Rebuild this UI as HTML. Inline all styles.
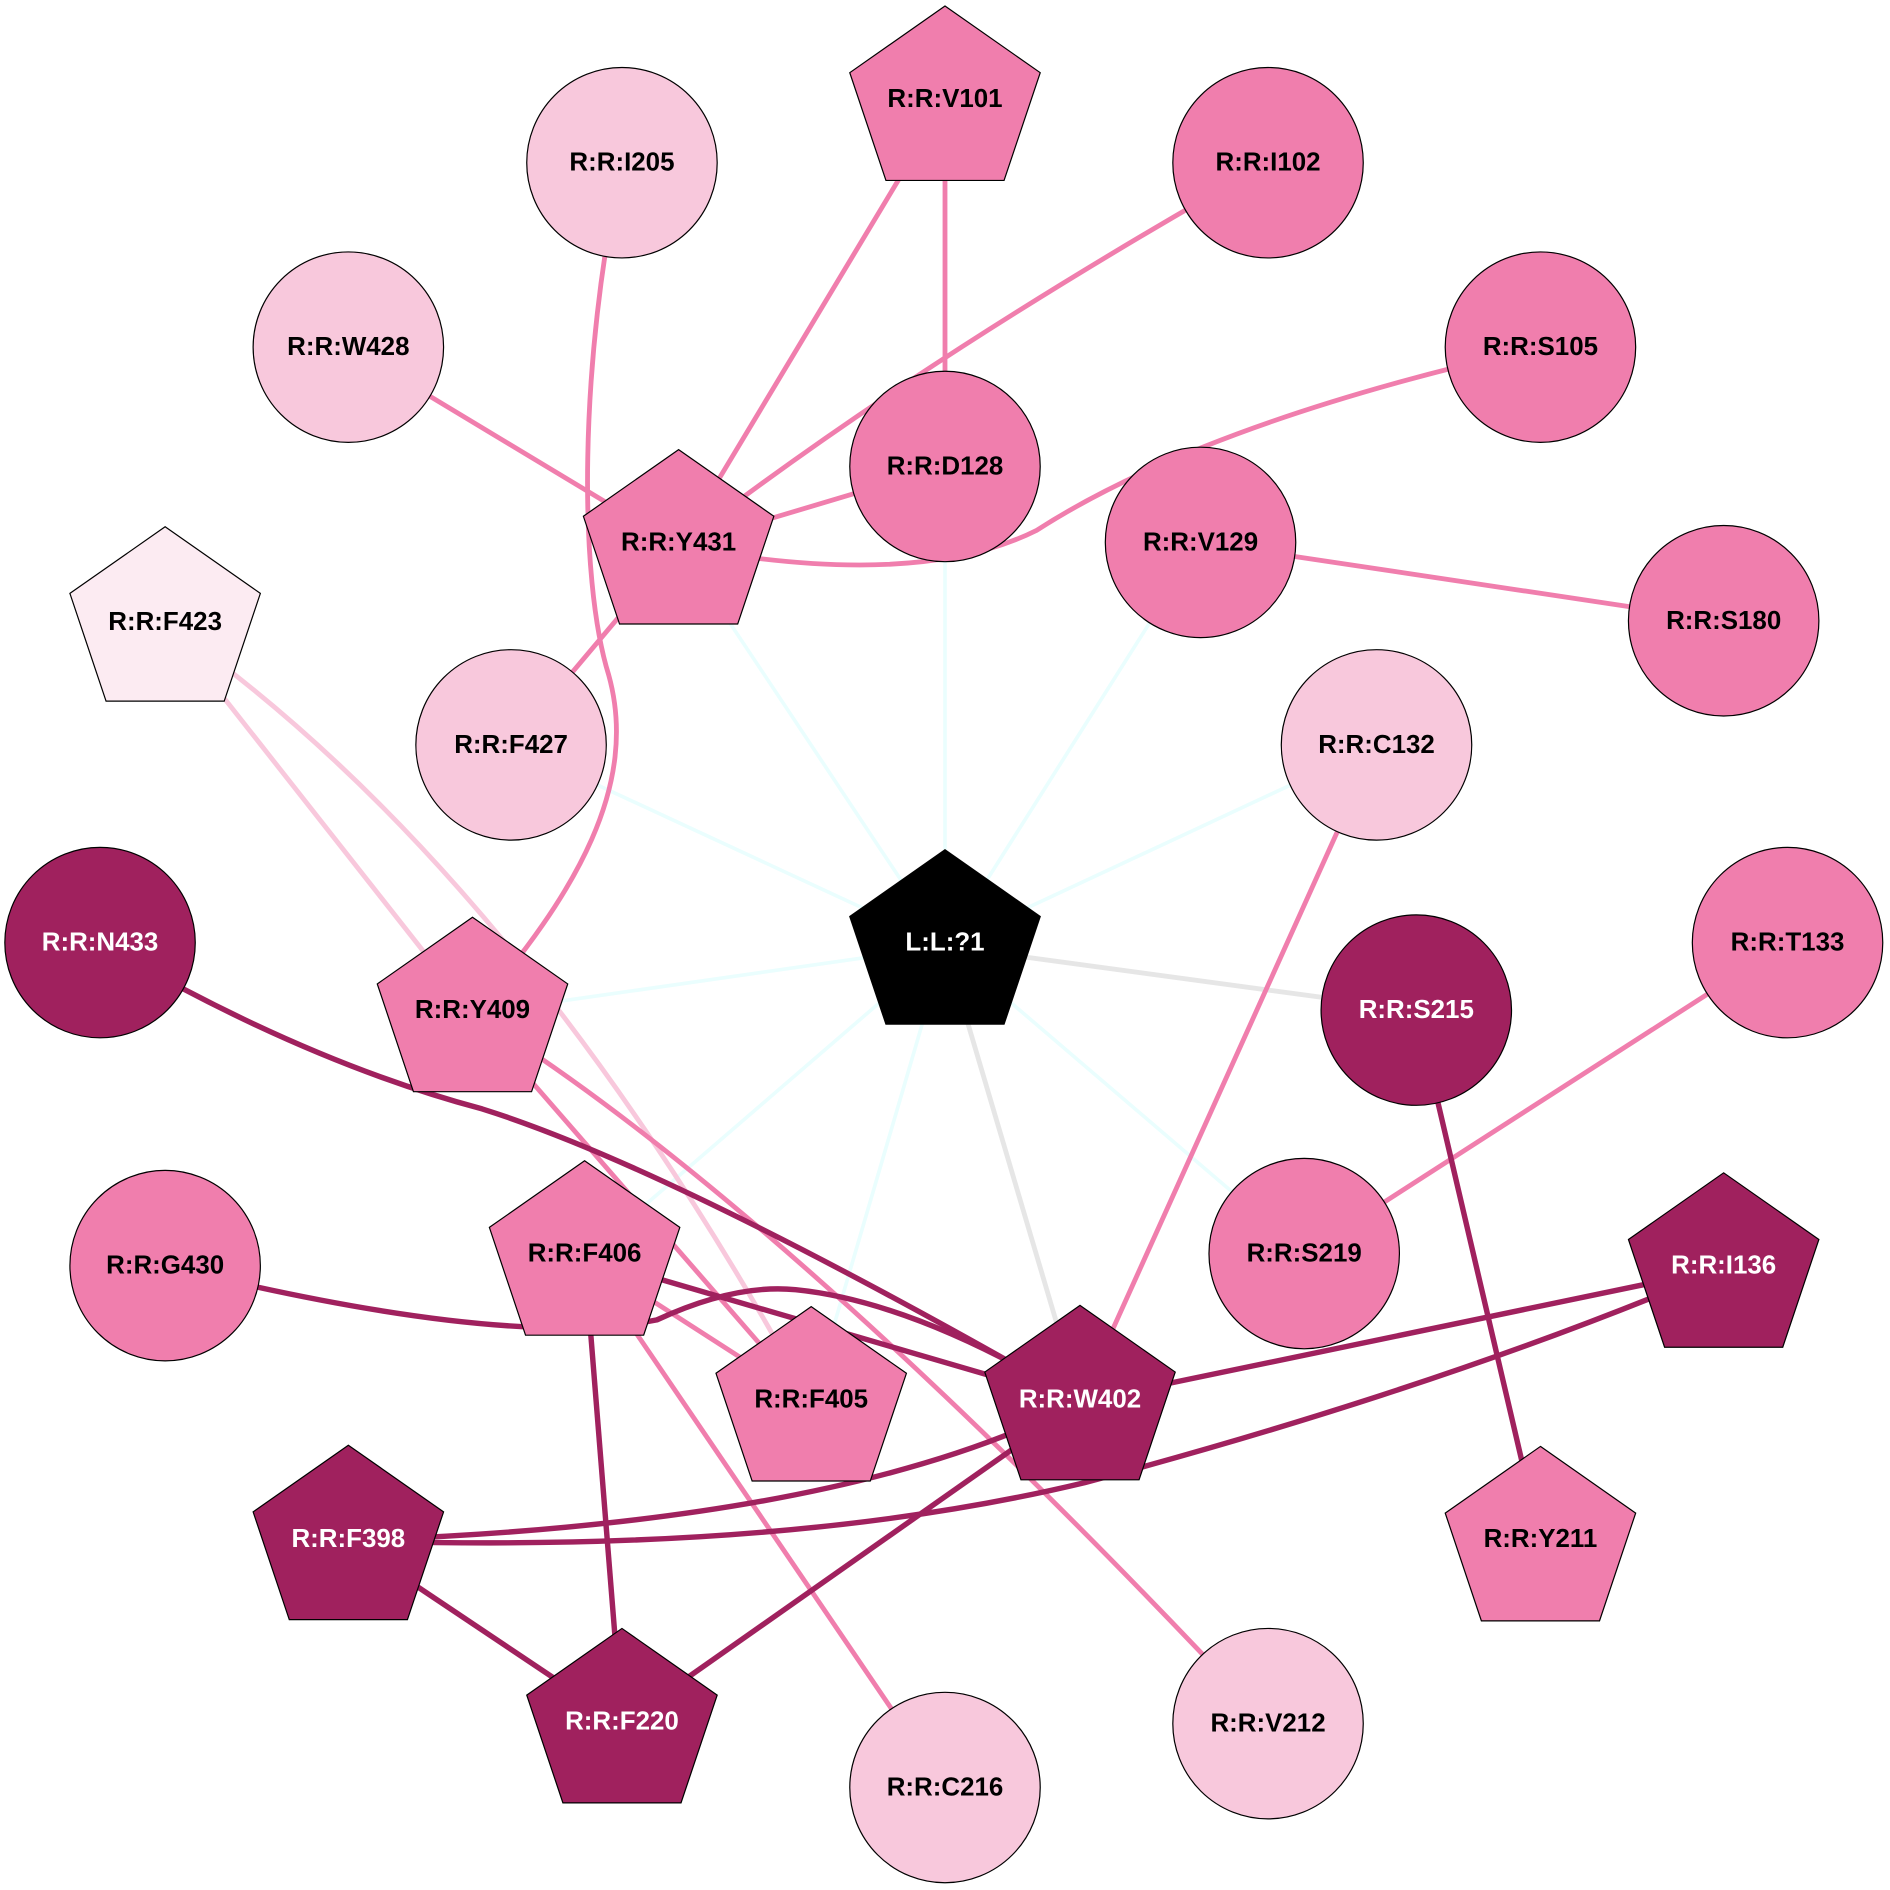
<!DOCTYPE html>
<html><head><meta charset="utf-8"><style>
html,body{margin:0;padding:0;background:#fff}
svg{display:block}
text{font-family:"Liberation Sans",Arial,sans-serif;font-weight:bold;font-size:21.5px;text-anchor:middle;dominant-baseline:central}
</style></head><body>
<svg width="1890" height="1890" viewBox="0 0 1568 1568" xmlns="http://www.w3.org/2000/svg">
<defs><polygon id="p" points="0,-80 79,-24.7 49,64.7 -49,64.7 -79,-24.7" stroke="#000" stroke-width="1"/></defs>
<g fill="none" stroke-width="3">
<g stroke="#eafefe">
<line x1="784" y1="785" x2="563" y2="453"/><line x1="784" y1="785" x2="784" y2="387"/>
<line x1="784" y1="785" x2="996" y2="450"/><line x1="784" y1="785" x2="424" y2="618"/>
<line x1="784" y1="785" x2="1142" y2="618"/><line x1="784" y1="785" x2="392" y2="841"/>
<line x1="784" y1="785" x2="1082" y2="1040"/><line x1="784" y1="785" x2="485" y2="1043"/>
<line x1="784" y1="785" x2="673" y2="1164"/>
</g>
<g stroke="#e6e6e6" stroke-width="4">
<line x1="784" y1="785" x2="1175" y2="838"/><line x1="784" y1="785" x2="896" y2="1163"/>
</g>
<g stroke="#f8c8dc" stroke-width="4">
<line x1="137" y1="517" x2="392" y2="841"/>
<path d="M137 517 Q430 720 673 1164"/>
</g>
<g stroke="#f07ead" stroke-width="4">
<line x1="784" y1="85" x2="784" y2="387"/>
<line x1="784" y1="85" x2="563" y2="453"/>
<path d="M1052 135 Q760 300 563 453"/>
<line x1="289" y1="288" x2="563" y2="453"/>
<line x1="563" y1="453" x2="784" y2="387"/>
<path d="M563 453 Q760 490 860 440 Q1000 350 1278 288"/>
<line x1="563" y1="453" x2="424" y2="618"/>
<path d="M516 135 C480 300 480 480 505 560 C530 650 480 740 392 841"/>
<line x1="996" y1="450" x2="1430" y2="515"/>
<line x1="1142" y1="618" x2="896" y2="1163"/>
<line x1="1483" y1="782" x2="1082" y2="1040"/>
<line x1="392" y1="841" x2="673" y2="1164"/>
<path d="M392 841 Q650 1000 1052 1430"/>
<line x1="485" y1="1043" x2="673" y2="1164"/>
<line x1="485" y1="1043" x2="784" y2="1483"/>
</g>
<g stroke="#a0215e" stroke-width="4.5">
<path d="M83 782 Q250 880 400 920 Q560 970 896 1163"/>
<path d="M137 1050 Q420 1120 545 1095 Q610 1065 660 1070 Q760 1080 896 1163"/>
<line x1="485" y1="1043" x2="896" y2="1163"/>
<line x1="1175" y1="838" x2="1278" y2="1278"/>
<line x1="1430" y1="1052" x2="896" y2="1163"/>
<path d="M1430 1052 Q1200 1150 900 1230 Q650 1290 289 1278"/>
<path d="M896 1163 Q700 1265 289 1278"/>
<line x1="289" y1="1278" x2="516" y2="1430"/>
<line x1="485" y1="1043" x2="516" y2="1430"/>
<line x1="896" y1="1163" x2="516" y2="1430"/>
</g>
</g>
<g stroke="#000" stroke-width="1">
<circle cx="516" cy="135" r="79" fill="#f8c8dc"/>
<circle cx="1052" cy="135" r="79" fill="#f07ead"/>
<circle cx="289" cy="288" r="79" fill="#f8c8dc"/>
<circle cx="1278" cy="288" r="79" fill="#f07ead"/>
<circle cx="784" cy="387" r="79" fill="#f07ead"/>
<circle cx="996" cy="450" r="79" fill="#f07ead"/>
<circle cx="1430" cy="515" r="79" fill="#f07ead"/>
<circle cx="424" cy="618" r="79" fill="#f8c8dc"/>
<circle cx="1142" cy="618" r="79" fill="#f8c8dc"/>
<circle cx="83" cy="782" r="79" fill="#a0215e"/>
<circle cx="1175" cy="838" r="79" fill="#a0215e"/>
<circle cx="1483" cy="782" r="79" fill="#f07ead"/>
<circle cx="1082" cy="1040" r="79" fill="#f07ead"/>
<circle cx="137" cy="1050" r="79" fill="#f07ead"/>
<circle cx="784" cy="1483" r="79" fill="#f8c8dc"/>
<circle cx="1052" cy="1430" r="79" fill="#f8c8dc"/>
</g>
<use href="#p" x="784" y="785" fill="#000"/>
<use href="#p" x="784" y="85" fill="#f07ead"/>
<use href="#p" x="563" y="453" fill="#f07ead"/>
<use href="#p" x="137" y="517" fill="#fcebf2"/>
<use href="#p" x="392" y="841" fill="#f07ead"/>
<use href="#p" x="485" y="1043" fill="#f07ead"/>
<use href="#p" x="1430" y="1053" fill="#a0215e"/>
<use href="#p" x="673" y="1164" fill="#f07ead"/>
<use href="#p" x="896" y="1163" fill="#a0215e"/>
<use href="#p" x="289" y="1279" fill="#a0215e"/>
<use href="#p" x="1278" y="1280" fill="#f07ead"/>
<use href="#p" x="516" y="1431" fill="#a0215e"/>
<g fill="#000">
<text x="516" y="135">R:R:I205</text>
<text x="1052" y="135">R:R:I102</text>
<text x="289" y="288">R:R:W428</text>
<text x="1278" y="288">R:R:S105</text>
<text x="784" y="387">R:R:D128</text>
<text x="996" y="450">R:R:V129</text>
<text x="1430" y="515">R:R:S180</text>
<text x="424" y="618">R:R:F427</text>
<text x="1142" y="618">R:R:C132</text>
<text x="1483" y="782">R:R:T133</text>
<text x="1082" y="1040">R:R:S219</text>
<text x="137" y="1050">R:R:G430</text>
<text x="784" y="1483">R:R:C216</text>
<text x="1052" y="1430">R:R:V212</text>
<text x="784" y="82">R:R:V101</text>
<text x="563" y="450">R:R:Y431</text>
<text x="137" y="516">R:R:F423</text>
<text x="392" y="838">R:R:Y409</text>
<text x="485" y="1040">R:R:F406</text>
<text x="673" y="1161">R:R:F405</text>
<text x="1278" y="1277">R:R:Y211</text>
</g>
<g fill="#fff">
<text x="784" y="782">L:L:?1</text>
<text x="83" y="782">R:R:N433</text>
<text x="1175" y="838">R:R:S215</text>
<text x="1430" y="1050">R:R:I136</text>
<text x="896" y="1161">R:R:W402</text>
<text x="289" y="1277">R:R:F398</text>
<text x="516" y="1428">R:R:F220</text>
</g>
</svg>
</body></html>
